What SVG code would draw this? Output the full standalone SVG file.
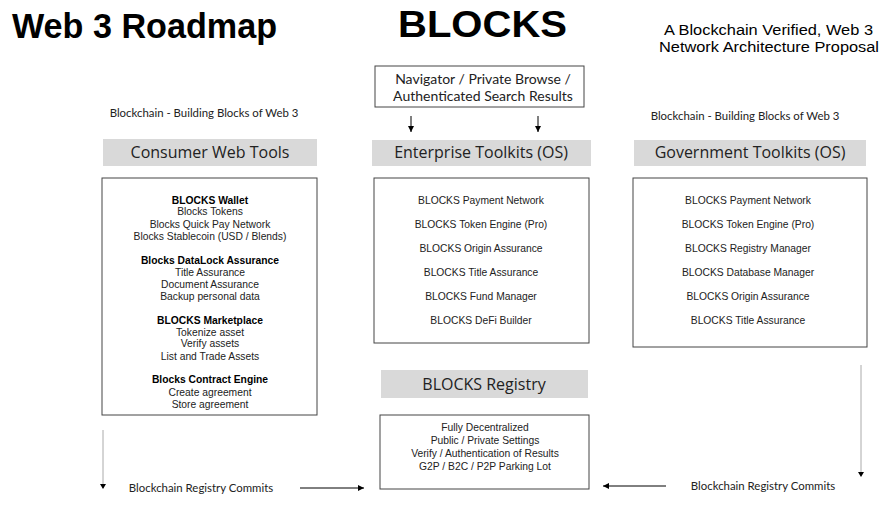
<svg xmlns="http://www.w3.org/2000/svg" width="880" height="527" viewBox="0 0 880 527">
<style>
.t{font-family:"Liberation Sans",Arial,sans-serif;fill:#000;}
.c{font-family:Lato,"Open Sans",sans-serif;fill:#222;}
.box{fill:#fff;stroke:#444;stroke-width:1;}
.hdr{fill:#d9d9d9;}
.ht{font-family:"Open Sans",Lato,sans-serif;font-size:16px;fill:#222;text-anchor:middle;}
.it{font-family:"Liberation Sans",Arial,sans-serif;font-size:10.3px;fill:#222;text-anchor:middle;}
.b{font-weight:bold;fill:#000;}
.ln{stroke:#000;stroke-width:1;fill:none;}
.lg{stroke:#aaa;stroke-width:1;fill:none;}
</style>
<defs>
<marker id="ah" viewBox="0 0 8 8" refX="8" refY="4" markerWidth="6" markerHeight="6" markerUnits="userSpaceOnUse" orient="auto">
<path d="M0,0 L8,4 L0,8 z" fill="#000"/>
</marker>
</defs>
<rect width="880" height="527" fill="#fff"/>

<g id="titles">
<text class="t" x="12" y="38" font-size="35" font-weight="bold" textLength="265" lengthAdjust="spacingAndGlyphs">Web 3 Roadmap</text>
<text class="t" x="398" y="37" font-size="37" font-weight="bold" textLength="169" lengthAdjust="spacingAndGlyphs">BLOCKS</text>
<text class="t" x="664" y="35" font-size="15.2" fill="#111" textLength="209" lengthAdjust="spacingAndGlyphs">A Blockchain Verified, Web 3</text>
<text class="t" x="659" y="52" font-size="15.2" fill="#111" textLength="220" lengthAdjust="spacingAndGlyphs">Network Architecture Proposal</text>
<text class="c" x="204" y="117" font-size="11.4" text-anchor="middle">Blockchain - Building Blocks of Web 3</text>
<text class="c" x="745" y="120" font-size="11.4" text-anchor="middle">Blockchain - Building Blocks of Web 3</text>
</g>

<g id="navigator">
<rect class="box" x="375" y="66" width="209" height="41"/>
<text class="c" x="483" y="84" font-size="14" text-anchor="middle">Navigator / Private Browse /</text>
<text class="c" x="483" y="101" font-size="14" text-anchor="middle">Authenticated Search Results</text>
</g>

<g id="consumer">
<rect class="hdr" x="103" y="139" width="214" height="27"/>
<text class="ht" x="210" y="158">Consumer Web Tools</text>
<rect class="box" x="102" y="178" width="215" height="237"/>
<text class="it b" x="210" y="204">BLOCKS Wallet</text>
<text class="it" x="210" y="215">Blocks Tokens</text>
<text class="it" x="210" y="228">Blocks Quick Pay Network</text>
<text class="it" x="210" y="240">Blocks Stablecoin (USD / Blends)</text>
<text class="it b" x="210" y="264">Blocks DataLock Assurance</text>
<text class="it" x="210" y="276">Title Assurance</text>
<text class="it" x="210" y="288">Document Assurance</text>
<text class="it" x="210" y="300">Backup personal data</text>
<text class="it b" x="210" y="324">BLOCKS Marketplace</text>
<text class="it" x="210" y="336">Tokenize asset</text>
<text class="it" x="210" y="347">Verify assets</text>
<text class="it" x="210" y="360">List and Trade Assets</text>
<text class="it b" x="210" y="383">Blocks Contract Engine</text>
<text class="it" x="210" y="396">Create agreement</text>
<text class="it" x="210" y="408">Store agreement</text>
</g>

<g id="enterprise">
<rect class="hdr" x="372" y="140" width="219" height="26"/>
<text class="ht" x="481" y="158">Enterprise Toolkits (OS)</text>
<rect class="box" x="374" y="178" width="215" height="165"/>
<text class="it" x="481" y="204">BLOCKS Payment Network</text>
<text class="it" x="481" y="228">BLOCKS Token Engine (Pro)</text>
<text class="it" x="481" y="252">BLOCKS Origin Assurance</text>
<text class="it" x="481" y="276">BLOCKS Title Assurance</text>
<text class="it" x="481" y="300">BLOCKS Fund Manager</text>
<text class="it" x="481" y="324">BLOCKS DeFi Builder</text>
</g>

<g id="government">
<rect class="hdr" x="634" y="140" width="232" height="26"/>
<text class="ht" x="750" y="158">Government Toolkits (OS)</text>
<rect class="box" x="633" y="178" width="234" height="169"/>
<text class="it" x="748" y="204">BLOCKS Payment Network</text>
<text class="it" x="748" y="228">BLOCKS Token Engine (Pro)</text>
<text class="it" x="748" y="252">BLOCKS Registry Manager</text>
<text class="it" x="748" y="276">BLOCKS Database Manager</text>
<text class="it" x="748" y="300">BLOCKS Origin Assurance</text>
<text class="it" x="748" y="324">BLOCKS Title Assurance</text>
</g>

<g id="registry">
<rect class="hdr" x="381" y="370" width="207" height="28"/>
<text class="ht" x="484" y="390">BLOCKS Registry</text>
<rect class="box" x="380" y="415" width="209" height="74"/>
<text class="it" x="485" y="431">Fully Decentralized</text>
<text class="it" x="485" y="444">Public / Private Settings</text>
<text class="it" x="485" y="457">Verify / Authentication of Results</text>
<text class="it" x="485" y="470">G2P / B2C / P2P Parking Lot</text>
</g>

<g id="commit-labels">
<text class="c" x="201" y="492" font-size="11.4" text-anchor="middle">Blockchain Registry Commits</text>
<text class="c" x="763" y="490" font-size="11.4" text-anchor="middle">Blockchain Registry Commits</text>
</g>

<g id="connectors">
<line class="ln" x1="411" y1="116" x2="411" y2="132" marker-end="url(#ah)"/>
<line class="ln" x1="538" y1="116" x2="538" y2="132" marker-end="url(#ah)"/>
<line class="lg" x1="103" y1="430" x2="103" y2="488"/>
<path d="M100,484 L106,484 L103,489 z" fill="#000"/>
<line class="ln" x1="300" y1="488" x2="364" y2="488" marker-end="url(#ah)"/>
<line class="lg" x1="861" y1="365" x2="861" y2="475"/>
<path d="M858,472 L864,472 L861,477 z" fill="#000"/>
<line class="ln" x1="666" y1="486" x2="603" y2="486" marker-end="url(#ah)"/>
</g>
</svg>
